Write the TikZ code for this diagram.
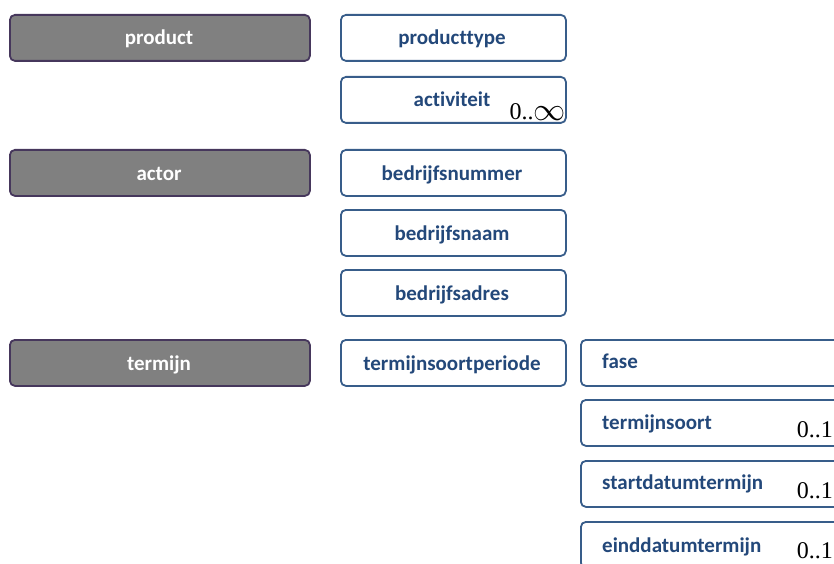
\documentclass[tikz,border=0pt]{standalone}
\usepackage{fontspec}
\newfontfamily\calfont[Ligatures=NoCommon]{Carlito}
\newfontfamily\multfont{Liberation Serif}
\definecolor{boxedge}{RGB}{56,93,138}
\definecolor{txtblue}{RGB}{35,72,122}
\definecolor{greyfill}{RGB}{128,128,128}
\definecolor{greyedge}{RGB}{70,55,92}
\begin{document}
\begin{tikzpicture}[x=1pt,y=-1pt]
\tikzset{
  greybox/.style={draw=greyedge, fill=greyfill, line width=1.8pt, rounded corners=5pt,
    anchor=north west, inner sep=0pt, minimum width=300pt, minimum height=46pt},
  wbox/.style={draw=boxedge, fill=white, line width=1.8pt, rounded corners=5pt,
    anchor=north west, inner sep=0pt, minimum width=225pt, minimum height=46pt},
  wboxr/.style={wbox, minimum width=262pt},
  lbl/.style={font=\calfont\bfseries\fontsize{21}{24}\selectfont, text=txtblue, inner sep=0pt},
  glbl/.style={lbl, text=white},
  mult/.style={font=\multfont\fontsize{24}{26}\selectfont, inner sep=0pt, text=black, anchor=base east}
}
\useasboundingbox (0,0) rectangle (834,564);
\clip (0,0) rectangle (834,564);
% grey boxes
\node[greybox] (product) at (9,14) {};
\node[glbl, anchor=base] (productl) at (159,45) {product};
\node[greybox] (actor) at (9,149) {};
\node[glbl, anchor=base] (actorl) at (159,180) {actor};
\node[greybox] (termijn) at (9,339) {};
\node[glbl, anchor=base] (termijnl) at (159,370) {termijn};
% first column
\node[wbox] (producttype) at (340,14) {};
\node[lbl, anchor=base] (producttypel) at (452,45) {producttype};
\node[wbox] (activiteit) at (340,76) {};
\node[lbl, anchor=base] (activiteitl) at (452,107) {activiteit};
\node[mult] (activiteitm) at (566,120) {0..\raisebox{-0.5pt}{\scalebox{1.55}{\fontsize{22}{24}\selectfont$\infty$}}};
\node[wbox] (bedrijfsnummer) at (340,149) {};
\node[lbl, anchor=base] (bedrijfsnummerl) at (452,180) {bedrijfsnummer};
\node[wbox] (bedrijfsnaam) at (340,209) {};
\node[lbl, anchor=base] (bedrijfsnaaml) at (452,240) {bedrijfsnaam};
\node[wbox] (bedrijfsadres) at (340,269) {};
\node[lbl, anchor=base] (bedrijfsadresl) at (452,300) {bedrijfsadres};
\node[wbox] (tsp) at (340,339) {};
\node[lbl, anchor=base] (tspl) at (452,370) {termijnsoortperiode};
% second column
\node[wboxr] (fase) at (580,339) {};
\node[lbl, anchor=base west] (fasel) at (602,368) {fase};
\node[wboxr] (termijnsoort) at (580,399) {};
\node[lbl, anchor=base west] (termijnsoortl) at (602,429) {termijnsoort};
\node[mult] (termijnsoortm) at (833,437) {0..1};
\node[wboxr] (start) at (580,460) {};
\node[lbl, anchor=base west] (startl) at (602,489) {startdatumtermijn};
\node[mult] (startm) at (833,498) {0..1};
\node[wboxr] (eind) at (580,521) {};
\node[lbl, anchor=base west] (eindl) at (602,552) {einddatumtermijn};
\node[mult] (eindm) at (833,558) {0..1};
\end{tikzpicture}
\end{document}
